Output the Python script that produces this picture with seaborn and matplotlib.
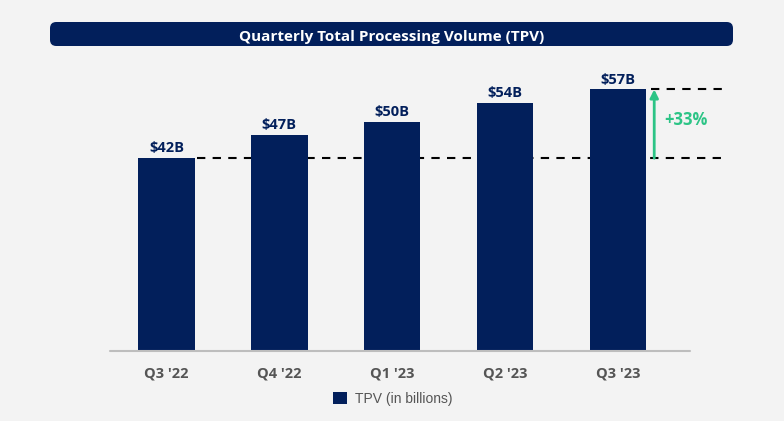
import matplotlib
matplotlib.use("Agg")
import matplotlib.pyplot as plt
from matplotlib.patches import FancyBboxPatch, Patch
import seaborn as sns
import pandas as pd

quarters = ["Q3 '22", "Q4 '22", "Q1 '23", "Q2 '23", "Q3 '23"]
tpv = [42, 47, 50, 54, 57]
value_labels = ["$42B", "$47B", "$50B", "$54B", "$57B"]
growth_label = "+33%"
title = "Quarterly Total Processing Volume (TPV)"
legend_label = "TPV (in billions)"

NAVY = "#021f5b"
GREEN = "#2cc486"
BG = "#f3f3f3"
GRAY = "#555555"
FONT = ['Open Sans', 'DejaVu Sans']

sns.set_theme(style="white")
plt.rcParams['font.family'] = FONT

fig = plt.figure(figsize=(7.84, 4.21), dpi=100, facecolor=BG)
ax = fig.add_axes([110/784, 70/421, 621/784, 291/421])
ax.set_facecolor(BG)

df = pd.DataFrame({"quarter": quarters, "tpv": tpv})
sns.barplot(data=df, x="quarter", y="tpv", color=NAVY, width=0.5, ax=ax,
            saturation=1, zorder=3, edgecolor='none', linewidth=0)

ax.set_xlim(-0.5, 5.0)
ax.set_ylim(0, 63.4)
for s in ax.spines.values():
    s.set_visible(False)
ax.set_yticks([])
ax.set_xlabel("")
ax.set_ylabel("")
ax.tick_params(axis='x', length=0, pad=11)
for lbl in ax.get_xticklabels():
    lbl.set_color(GRAY)
    lbl.set_fontsize(10.5)
    lbl.set_fontweight('bold')

# baseline
ax.plot([-0.5, 4.64], [0, 0], color="#bdbdbd", lw=1.5, zorder=4, clip_on=False)

ax.bar_label(ax.containers[0], labels=value_labels, padding=2, color=NAVY,
             fontsize=10.5, fontweight='bold')

# dashed reference lines
ax.plot([0.27, 4.95], [tpv[0], tpv[0]], color="black", lw=1.5,
        dashes=(4, 3.5), zorder=2, clip_on=False)
ax.plot([4.29, 4.95], [tpv[-1], tpv[-1]], color="black", lw=1.5,
        dashes=(4, 3.5), zorder=2, clip_on=False)

ax.annotate("", xy=(4.32, tpv[-1]), xytext=(4.32, tpv[0]),
            arrowprops=dict(arrowstyle="-|>", color=GREEN, lw=2,
                            mutation_scale=12, shrinkA=0, shrinkB=0),
            zorder=5)
ax.text(4.41, (tpv[0] + tpv[-1]) / 2 + 0.8, growth_label, color=GREEN,
        fontsize=12, fontweight='bold', va='center', ha='left')

# title bar
box = FancyBboxPatch((50/784, 1 - 46/421), (733-50)/784, 24/421,
                     boxstyle="round,pad=0,rounding_size=0.008",
                     transform=fig.transFigure, facecolor=NAVY,
                     edgecolor='none', mutation_aspect=784/421)
fig.patches.append(box)
fig.text((50+733)/2/784, 1 - 35/421, title, color="white",
         fontsize=11, fontweight='bold', ha='center', va='center_baseline')

handles = [Patch(facecolor=NAVY, edgecolor='none', label=legend_label)]
leg = fig.legend(handles=handles, loc='center', bbox_to_anchor=(393/784, 1 - 399/421),
                 frameon=False, handlelength=1.0, handleheight=1.0,
                 handletextpad=0.6, prop={'family': ['Liberation Sans'], 'size': 10})
for t in leg.get_texts():
    t.set_color(GRAY)

fig.savefig("out.png", dpi=100, facecolor=BG)
